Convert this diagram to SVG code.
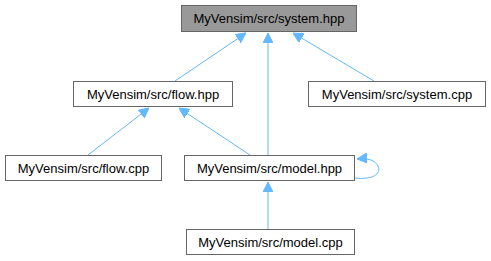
<svg xmlns="http://www.w3.org/2000/svg" width="491" height="261" viewBox="0 0 491 261">
  <style>
    .node rect { fill: #ffffff; stroke: #666666; stroke-width: 1; }
    .node.current rect { fill: #999999; stroke: #666666; }
    .node text { font-family: "Liberation Sans", Arial, sans-serif; font-size: 13px; fill: #000000; text-anchor: middle; dominant-baseline: central; }
    .edge { fill: none; stroke: #63b8ff; stroke-width: 1; }
  </style>
  <defs>
    <marker id="arrow" viewBox="0 0 10 10" refX="10" refY="5" markerWidth="10" markerHeight="10" markerUnits="userSpaceOnUse" orient="auto">
      <path d="M0,0 L10,5 L0,10 Z" fill="#63b8ff" stroke="#63b8ff"/>
    </marker>
  </defs>
  <rect width="491" height="261" fill="#ffffff"/>

  <g id="edges">
    <path class="edge" d="M175,81 L246,33" marker-end="url(#arrow)"/>
    <path class="edge" d="M268,155 L268,33" marker-end="url(#arrow)"/>
    <path class="edge" d="M374,81 L293,33" marker-end="url(#arrow)"/>
    <path class="edge" d="M88,155 L149,108" marker-end="url(#arrow)"/>
    <path class="edge" d="M250,155 L179,108" marker-end="url(#arrow)"/>
    <path class="edge" d="M268,229 L268,182" marker-end="url(#arrow)"/>
    <path class="edge" d="M355,178 C372,180 382,174 378,166 C375,160 368,158 357,159" marker-end="url(#arrow)"/>
  </g>

  <g id="system_hpp" class="node current">
    <rect x="181.5" y="5.5" width="175" height="26"/>
    <text x="269" y="18.5">MyVensim/src/system.hpp</text>
  </g>
  <g id="flow_hpp" class="node">
    <rect x="73.5" y="81.5" width="159" height="25"/>
    <text x="153" y="94">MyVensim/src/flow.hpp</text>
  </g>
  <g id="system_cpp" class="node">
    <rect x="308.5" y="81.5" width="177" height="25"/>
    <text x="397" y="94">MyVensim/src/system.cpp</text>
  </g>
  <g id="flow_cpp" class="node">
    <rect x="5.5" y="155.5" width="156" height="25"/>
    <text x="83.5" y="168">MyVensim/src/flow.cpp</text>
  </g>
  <g id="model_hpp" class="node">
    <rect x="184.5" y="155.5" width="170" height="25"/>
    <text x="269.5" y="168">MyVensim/src/model.hpp</text>
  </g>
  <g id="model_cpp" class="node">
    <rect x="186.5" y="229.5" width="168" height="25"/>
    <text x="270.5" y="242">MyVensim/src/model.cpp</text>
  </g>
</svg>
